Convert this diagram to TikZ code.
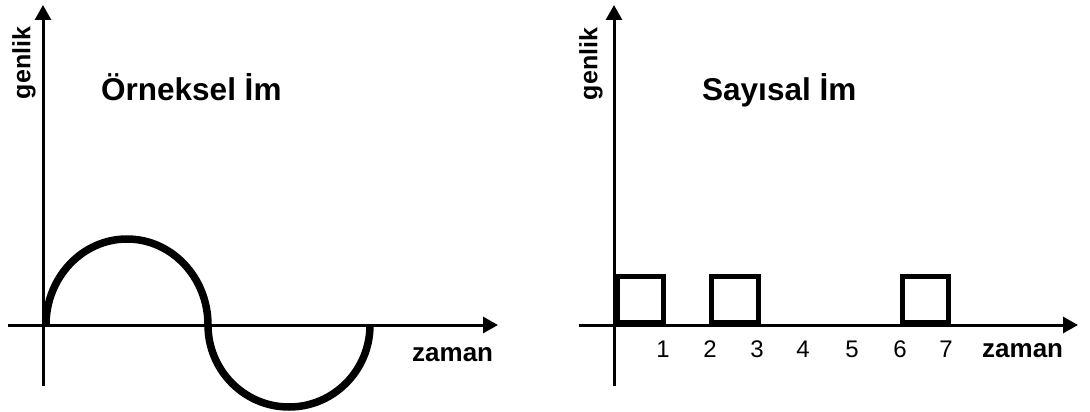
\documentclass[tikz,border=0pt]{standalone}
\usepackage{fontspec}
\setmainfont{Liberation Sans}
\usetikzlibrary{arrows.meta}
\begin{document}
\begin{tikzpicture}[x=1pt,y=-1pt,
  axis/.style={line width=3pt,-{Triangle[length=15pt,width=16pt]}},
  plain/.style={line width=3pt},
  wave/.style={line width=7.5pt},
  pulse/.style={line width=5pt},
  title/.style={font=\fontsize{31.5}{36}\selectfont\bfseries,anchor=base west,inner sep=0pt},
  ylab/.style={font=\fontsize{25}{30}\selectfont\bfseries,rotate=90,inner sep=0pt},
  xlab/.style={font=\fontsize{26}{31}\selectfont\bfseries,anchor=base west,inner sep=0pt},
  tick/.style={font=\fontsize{24}{29}\selectfont,anchor=base,inner sep=0pt}]
\useasboundingbox (0,0) rectangle (1090,412);
% left panel
\coordinate (lyb) at (43,386);
\coordinate (lyt) at (43,5);
\coordinate (lxl) at (8,325);
\coordinate (lxr) at (498,325);
\draw[plain] (lyb) -- (43,325);
\draw[axis] (43,325) -- (lyt);
\draw[axis] (lxl) -- (lxr);
\coordinate (ws) at (46,325);
\draw[wave] (ws) arc[start angle=180,end angle=360,x radius=81,y radius=86]
  arc[start angle=180,end angle=0,x radius=81,y radius=82];
\node[title] (t1) at (101,100) {Örneksel İm};
\node[ylab] (g1) at (24,63) {genlik};
\node[xlab] (z1) at (412,361) {zaman};
% right panel
\coordinate (ryb) at (614,386);
\coordinate (ryt) at (614,5);
\coordinate (rxl) at (579,325);
\coordinate (rxr) at (1078,325);
\draw[plain] (ryb) -- (614,325);
\draw[axis] (614,325) -- (ryt);
\draw[axis] (rxl) -- (rxr);
\draw[pulse] (617,276) rectangle (663,322);
\draw[pulse] (711,276) rectangle (758,322);
\draw[pulse] (902,276) rectangle (948,322);
\node[title] (t2) at (702,100) {Sayısal İm};
\node[ylab] (g2) at (591,64) {genlik};
\node[tick] (n1) at (663,357) {1};
\node[tick] (n2) at (710,357) {2};
\node[tick] (n3) at (757,357) {3};
\node[tick] (n4) at (803,357) {4};
\node[tick] (n5) at (852,357) {5};
\node[tick] (n6) at (900,357) {6};
\node[tick] (n7) at (946,357) {7};
\node[xlab] (z2) at (982,357) {zaman};
\end{tikzpicture}
\end{document}
